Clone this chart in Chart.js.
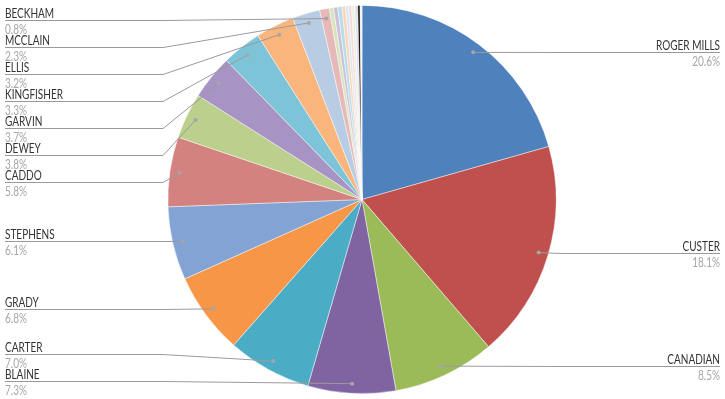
<!DOCTYPE html>
<html>
<head>
<meta charset="utf-8">
<script src="https://cdn.jsdelivr.net/npm/chart.js@4/dist/chart.umd.min.js"></script>
<style>
  html, body { margin: 0; padding: 0; background: #ffffff; }
  #wrap { width: 725px; height: 399px; position: relative; }
</style>
</head>
<body>
<div id="wrap"><canvas id="c" width="725" height="399"></canvas></div>
<script>
// ---- data (percent share by county) ----
const categories = [
  "ROGER MILLS", "CUSTER", "CANADIAN", "BLAINE", "CARTER", "GRADY", "STEPHENS",
  "CADDO", "DEWEY", "GARVIN", "KINGFISHER", "ELLIS", "MCCLAIN", "BECKHAM",
  "", "", "", "", "", "", "", "", "", ""
];
const shares = [
  20.6, 18.1, 8.5, 7.3, 7.0, 6.8, 6.1,
  5.8, 3.8, 3.7, 3.3, 3.2, 2.3, 0.8,
  0.35, 0.35, 0.35, 0.3, 0.25, 0.25, 0.25, 0.25, 0.2, 0.15
];
// ---- styles ----
const palette = [
  "#4F81BD", "#C0504D", "#9BBB59", "#8064A2", "#4BACC6", "#F79646", "#82A3D3",
  "#D4827F", "#BBD08C", "#A794C4", "#7DC4D9", "#FAB57C", "#B8CCE4", "#E6B9B8",
  "#D7E4BD", "#CCC1DA", "#B7DEE8", "#FCD5B5", "#DCE6F2", "#F2DCDB", "#EBF1DE",
  "#E6E0EC", "#111111", "#F4F4F4"
];

const FONT = 'Lato, "Liberation Sans", Arial, sans-serif';

function drawText(ctx, text, x, y, alignRight, sx) {
  ctx.save();
  ctx.translate(x, y);
  ctx.scale(sx, 1);
  ctx.textAlign = alignRight ? 'right' : 'left';
  ctx.fillText(text, 0, 0);
  ctx.restore();
}

const leaderPlugin = {
  id: 'leaders',
  afterDraw(chart) {
    const ctx = chart.ctx;
    const meta = chart.getDatasetMeta(0);
    const items = [];
    meta.data.forEach((arc, i) => {
      const name = categories[i];
      if (!name) return;
      const mid = (arc.startAngle + arc.endAngle) / 2;
      const r = arc.outerRadius * 0.95;
      const ax = arc.x + Math.cos(mid) * r;
      const ay = arc.y + Math.sin(mid) * r;
      items.push({ i, name, ax, ay, right: Math.cos(mid) >= 0, y: ay });
    });
    const minY = 20, maxY = 381, gap = 27;
    const left = items.filter(o => !o.right).sort((a, b) => a.ay - b.ay);
    let prev = -Infinity;
    left.forEach(o => { o.y = Math.max(o.ay, prev + gap, minY); prev = o.y; });
    let next = Infinity;
    for (let k = left.length - 1; k >= 0; k--) {
      const o = left[k];
      o.y = Math.min(o.y, next - gap, maxY); next = o.y;
    }
    ctx.save();
    ctx.font = '12.5px ' + FONT;
    const w = ctx.measureText('KINGFISHER').width;
    const sx = Math.min(1, 58 / w);
    const lineColor = '#9A9A9A';
    items.forEach(o => {
      const y = Math.round(o.y) + 0.5;
      ctx.strokeStyle = lineColor;
      ctx.lineWidth = 1;
      ctx.beginPath();
      if (o.right) {
        ctx.moveTo(o.ax, o.ay);
        ctx.lineTo(562, y);
        ctx.lineTo(720, y);
      } else {
        ctx.moveTo(5, y);
        ctx.lineTo(163, y);
        ctx.lineTo(o.ax, o.ay);
      }
      ctx.stroke();
      ctx.fillStyle = '#A6A6A6';
      ctx.beginPath();
      ctx.arc(o.ax, o.ay, 2, 0, Math.PI * 2);
      ctx.fill();
      const tx = o.right ? 720 : 5;
      ctx.textBaseline = 'alphabetic';
      ctx.font = '12.5px ' + FONT;
      ctx.fillStyle = '#333333';
      drawText(ctx, o.name, tx, y - 2.5, o.right, sx);
      ctx.fillStyle = '#A6A6A6';
      drawText(ctx, shares[o.i].toFixed(1) + '%', tx, y + 13.5, o.right, sx);
    });
    ctx.restore();
  }
};

new Chart(document.getElementById('c'), {
  type: 'pie',
  data: {
    labels: categories,
    datasets: [{
      data: shares,
      backgroundColor: palette,
      borderColor: 'rgba(255,255,255,0.6)',
      borderWidth: 0.75
    }]
  },
  options: {
    responsive: false,
    animation: false,
    layout: { padding: { top: 5, bottom: 5, left: 0, right: 1 } },
    plugins: { legend: { display: false }, tooltip: { enabled: false } }
  },
  plugins: [leaderPlugin]
});
</script>
</body>
</html>
